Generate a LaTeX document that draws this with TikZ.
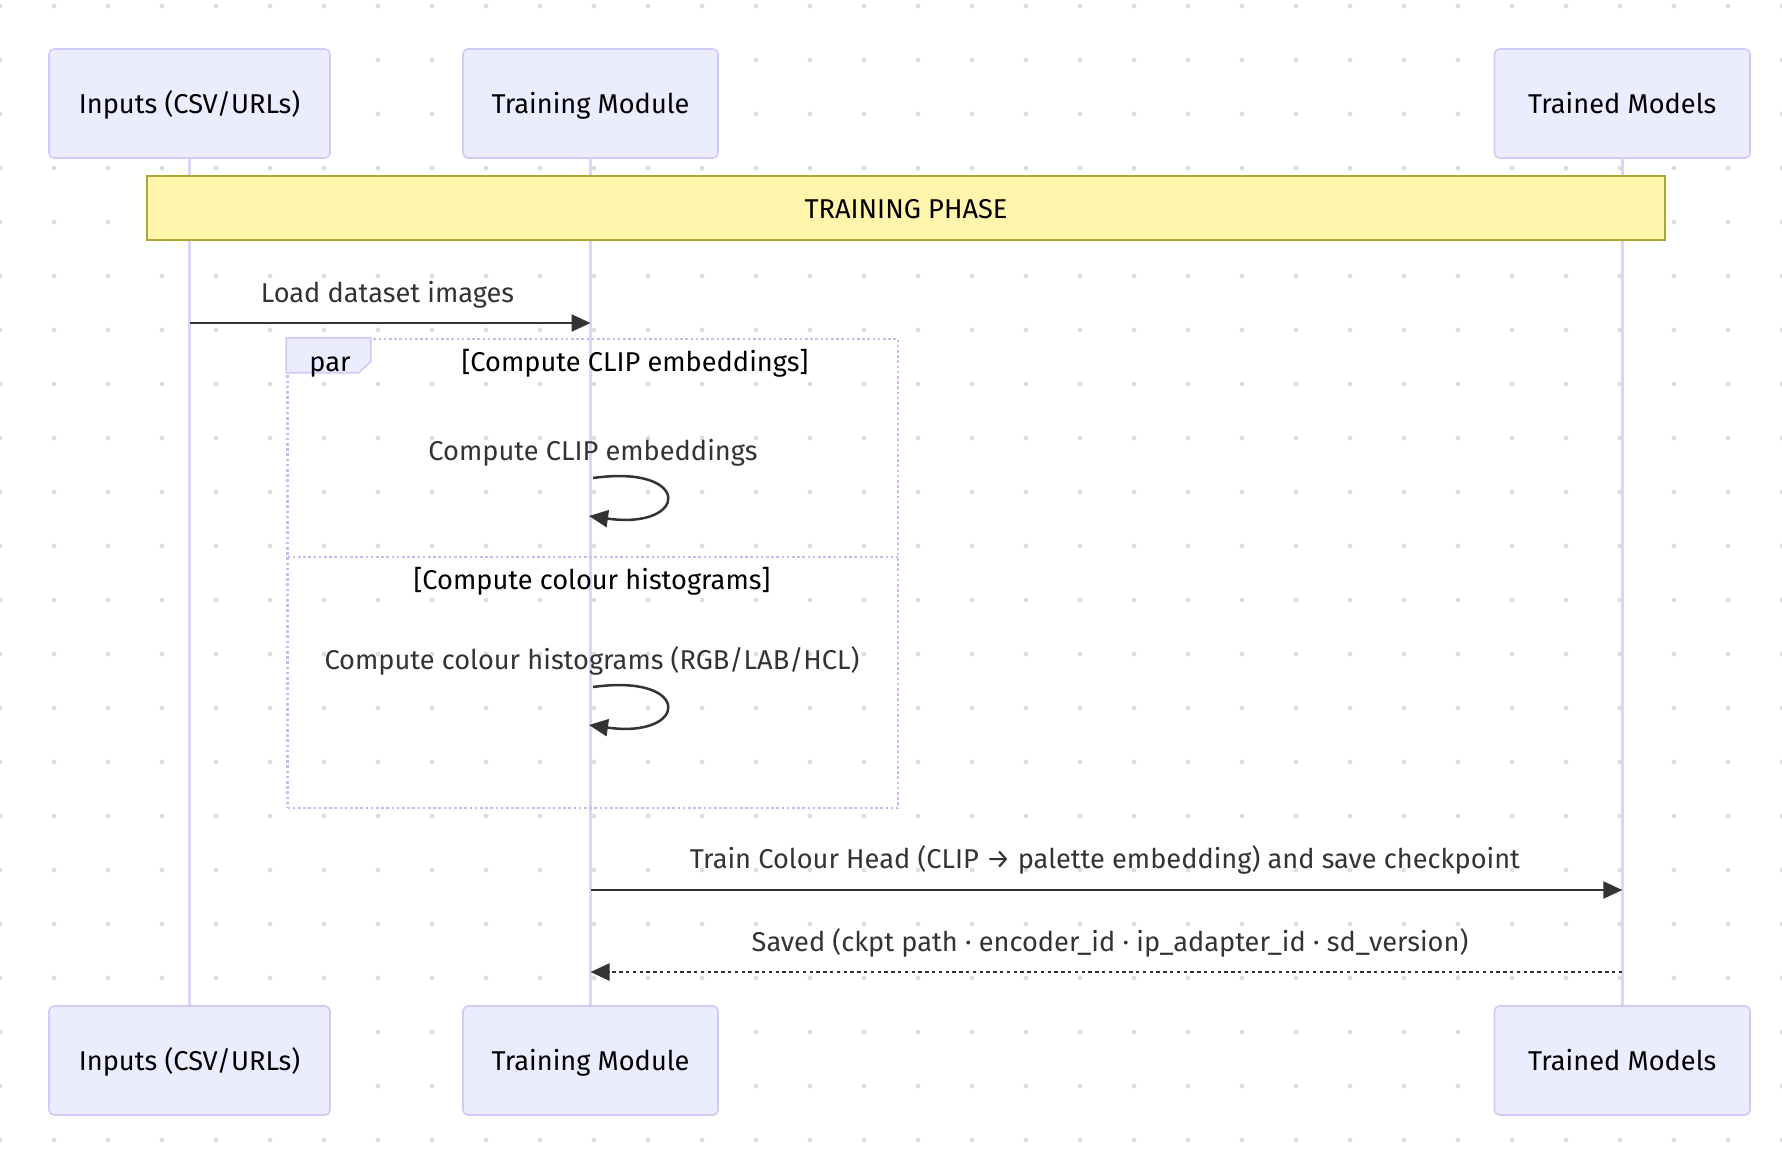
\documentclass[tikz,border=0pt]{standalone}
\usepackage{fontspec}
\setmainfont{Fira Sans}
\usetikzlibrary{arrows.meta}
\definecolor{actfill}{HTML}{ECECFF}
\definecolor{actline}{HTML}{D2CAF6}
\definecolor{lifeln}{HTML}{DCD5F7}
\definecolor{notefill}{HTML}{FFF5AD}
\definecolor{noteline}{HTML}{AAAA33}
\definecolor{msgc}{HTML}{333333}
\definecolor{dotc}{HTML}{DEDEDE}
\definecolor{parc}{HTML}{C6BCF0}
\begin{document}
\begin{tikzpicture}[x=0.5pt,y=-0.5pt,
  font=\fontsize{13.6}{16}\selectfont,
  every node/.style={text height=1.0em, text depth=0em},
  actorbox/.style={draw=actline, fill=actfill, line width=0.8pt, rounded corners=2.5pt,
    minimum height=54.5pt, inner sep=0pt, text=black},
  lifeline/.style={draw=lifeln, line width=1.3pt},
  notebox/.style={draw=noteline, fill=notefill, line width=0.7pt, inner sep=0pt, text=black},
  msgarrow/.style={draw=msgc, line width=1.25pt, -{Triangle[length=9.5pt,width=8.5pt]}},
  msgdotted/.style={msgarrow, dash pattern=on 1.7pt off 1.7pt},
  msglabel/.style={text=msgc, inner sep=0pt},
  parframe/.style={draw=parc, line width=1.3pt, dash pattern=on 1.3pt off 1.3pt},
  seclabel/.style={text=black, inner sep=0pt}]
\useasboundingbox (0,0) rectangle (1782,1148);
% background dots
\foreach \i in {0,...,33}{
  \foreach \j in {0,...,21}{
    \fill[dotc] (54*\i, 6+54*\j) circle (1.2pt);
  }
}
% actors
\node[actorbox, minimum width=140.5pt] (inT) at (189.5,103.5) {Inputs (CSV/URLs)};
\node[actorbox, minimum width=127.5pt] (trT) at (590.5,103.5) {Training Module};
\node[actorbox, minimum width=127.75pt] (mdT) at (1622.25,103.5) {Trained Models};
\node[actorbox, minimum width=140.5pt] (inB) at (189.5,1060.5) {Inputs (CSV/URLs)};
\node[actorbox, minimum width=127.5pt] (trB) at (590.5,1060.5) {Training Module};
\node[actorbox, minimum width=127.75pt] (mdB) at (1622.25,1060.5) {Trained Models};
% lifelines
\draw[lifeline] (inT) -- (inB);
\draw[lifeline] (trT) -- (trB);
\draw[lifeline] (mdT) -- (mdB);
% note
\node[notebox, minimum width=759pt, minimum height=32pt] (note) at (906,208) {TRAINING PHASE};
% message 1
\coordinate (m1a) at (189.5,323);
\coordinate (m1b) at (590.5,323);
\draw[msgarrow] (m1a) -- (m1b);
\node[msglabel] (l1) at (387.5,292) {Load dataset images};
% par frame
\node[parframe, minimum width=305.25pt, minimum height=234.5pt, inner sep=0pt] (par) at (592.75,573.5) {};
\draw[draw=actline, fill=actfill, line width=0.8pt] (par.north west) -- ++(84.5,0) -- ++(0,24) -- ++(-12,11) -- ++(-72.5,0) -- cycle;
\node[seclabel] (parlbl) at (330,361) {par};
\node[seclabel] (sec1) at (635,361) {[Compute CLIP embeddings]};
\coordinate (sepL) at (287.5,557);
\coordinate (sepR) at (898,557);
\draw[parframe] (sepL) -- (sepR);
\node[seclabel] (sec2) at (592,579) {[Compute colour histograms]};
% self message 1
\node[msglabel] (l2) at (593,450) {Compute CLIP embeddings};
\coordinate (s1a) at (593,478);
\coordinate (s1b) at (589,516);
\draw[msgarrow] (s1a) .. controls +(100,-14) and +(100,14) .. (s1b);
% self message 2
\node[msglabel] (l3) at (592,659) {Compute colour histograms (RGB/LAB/HCL)};
\coordinate (s2a) at (593,687);
\coordinate (s2b) at (589,725);
\draw[msgarrow] (s2a) .. controls +(100,-14) and +(100,14) .. (s2b);
% train message
\coordinate (m4a) at (590.5,890);
\coordinate (m4b) at (1622.25,890);
\draw[msgarrow] (m4a) -- (m4b);
\node[msglabel] (l4) at (1105,858) {Train Colour Head (CLIP → palette embedding) and save checkpoint};
% saved reply
\coordinate (m5a) at (1622.25,972);
\coordinate (m5b) at (590.5,972);
\draw[msgdotted] (m5a) -- (m5b);
\node[msglabel] (l5) at (1110,941) {Saved (ckpt path · encoder\_id · ip\_adapter\_id · sd\_version)};
\end{tikzpicture}
\end{document}
